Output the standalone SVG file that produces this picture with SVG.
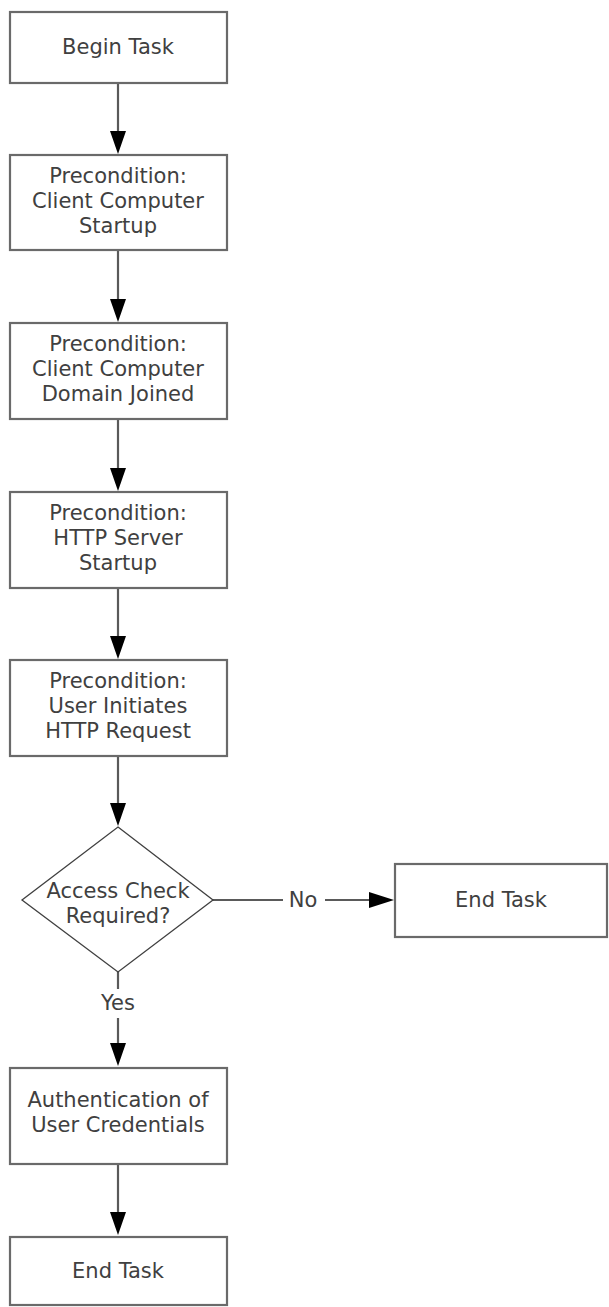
<svg xmlns="http://www.w3.org/2000/svg" width="609" height="1307" viewBox="0 0 609 1307">
<style>
.box{fill:#fff;stroke:#6a6a6a;stroke-width:2.2}
.dia{fill:#fff;stroke:#404040;stroke-width:1.3}
.t{font-family:"DejaVu Sans",Verdana,sans-serif;font-size:21px;fill:#404040;text-anchor:middle}
.c{stroke:#5a5a5a;stroke-width:2.2;fill:none}
.h{fill:#000}
</style>
<rect width="609" height="1307" fill="#fff"/>
<g id="connectors">
<line class="c" x1="118" y1="83" x2="118" y2="134"/>
<polygon class="h" points="110,131 126,131 118,154"/>
<line class="c" x1="118" y1="250" x2="118" y2="302"/>
<polygon class="h" points="110,299 126,299 118,322"/>
<line class="c" x1="118" y1="419" x2="118" y2="471"/>
<polygon class="h" points="110,468 126,468 118,491"/>
<line class="c" x1="118" y1="588" x2="118" y2="639"/>
<polygon class="h" points="110,636 126,636 118,659"/>
<line class="c" x1="118" y1="756" x2="118" y2="806"/>
<polygon class="h" points="110,803 126,803 118,826"/>
<line class="c" x1="213" y1="900" x2="283" y2="900"/>
<text class="t" x="303" y="907">No</text>
<line class="c" x1="325" y1="900" x2="372" y2="900"/>
<polygon class="h" points="369,892 369,908 394,900"/>
<line class="c" x1="118" y1="972" x2="118" y2="989"/>
<text class="t" x="118" y="1010">Yes</text>
<line class="c" x1="118" y1="1018" x2="118" y2="1045"/>
<polygon class="h" points="110,1043 126,1043 118,1066"/>
<line class="c" x1="118" y1="1164" x2="118" y2="1214"/>
<polygon class="h" points="110,1212 126,1212 118,1235"/>
</g>
<g id="begin">
<rect class="box" x="10" y="12" width="217" height="71"/>
<text class="t" x="118" y="54">Begin Task</text>
</g>
<g id="pre1">
<rect class="box" x="10" y="155" width="217" height="95"/>
<text class="t" x="118" y="183">Precondition:</text>
<text class="t" x="118" y="208">Client Computer</text>
<text class="t" x="118" y="233">Startup</text>
</g>
<g id="pre2">
<rect class="box" x="10" y="323" width="217" height="96"/>
<text class="t" x="118" y="351">Precondition:</text>
<text class="t" x="118" y="376">Client Computer</text>
<text class="t" x="118" y="401">Domain Joined</text>
</g>
<g id="pre3">
<rect class="box" x="10" y="492" width="217" height="96"/>
<text class="t" x="118" y="520">Precondition:</text>
<text class="t" x="118" y="545">HTTP Server</text>
<text class="t" x="118" y="570">Startup</text>
</g>
<g id="pre4">
<rect class="box" x="10" y="660" width="217" height="96"/>
<text class="t" x="118" y="688">Precondition:</text>
<text class="t" x="118" y="713">User Initiates</text>
<text class="t" x="118" y="738">HTTP Request</text>
</g>
<g id="decision">
<polygon class="dia" points="118,827 213,900 118,972 22,900"/>
<text class="t" x="118" y="898">Access Check</text>
<text class="t" x="118" y="923">Required?</text>
</g>
<g id="endRight">
<rect class="box" x="395" y="864" width="212" height="73"/>
<text class="t" x="501" y="907">End Task</text>
</g>
<g id="auth">
<rect class="box" x="10" y="1068" width="217" height="96"/>
<text class="t" x="118" y="1107">Authentication of</text>
<text class="t" x="118" y="1132">User Credentials</text>
</g>
<g id="endBottom">
<rect class="box" x="10" y="1237" width="217" height="68"/>
<text class="t" x="118" y="1278">End Task</text>
</g>
</svg>
